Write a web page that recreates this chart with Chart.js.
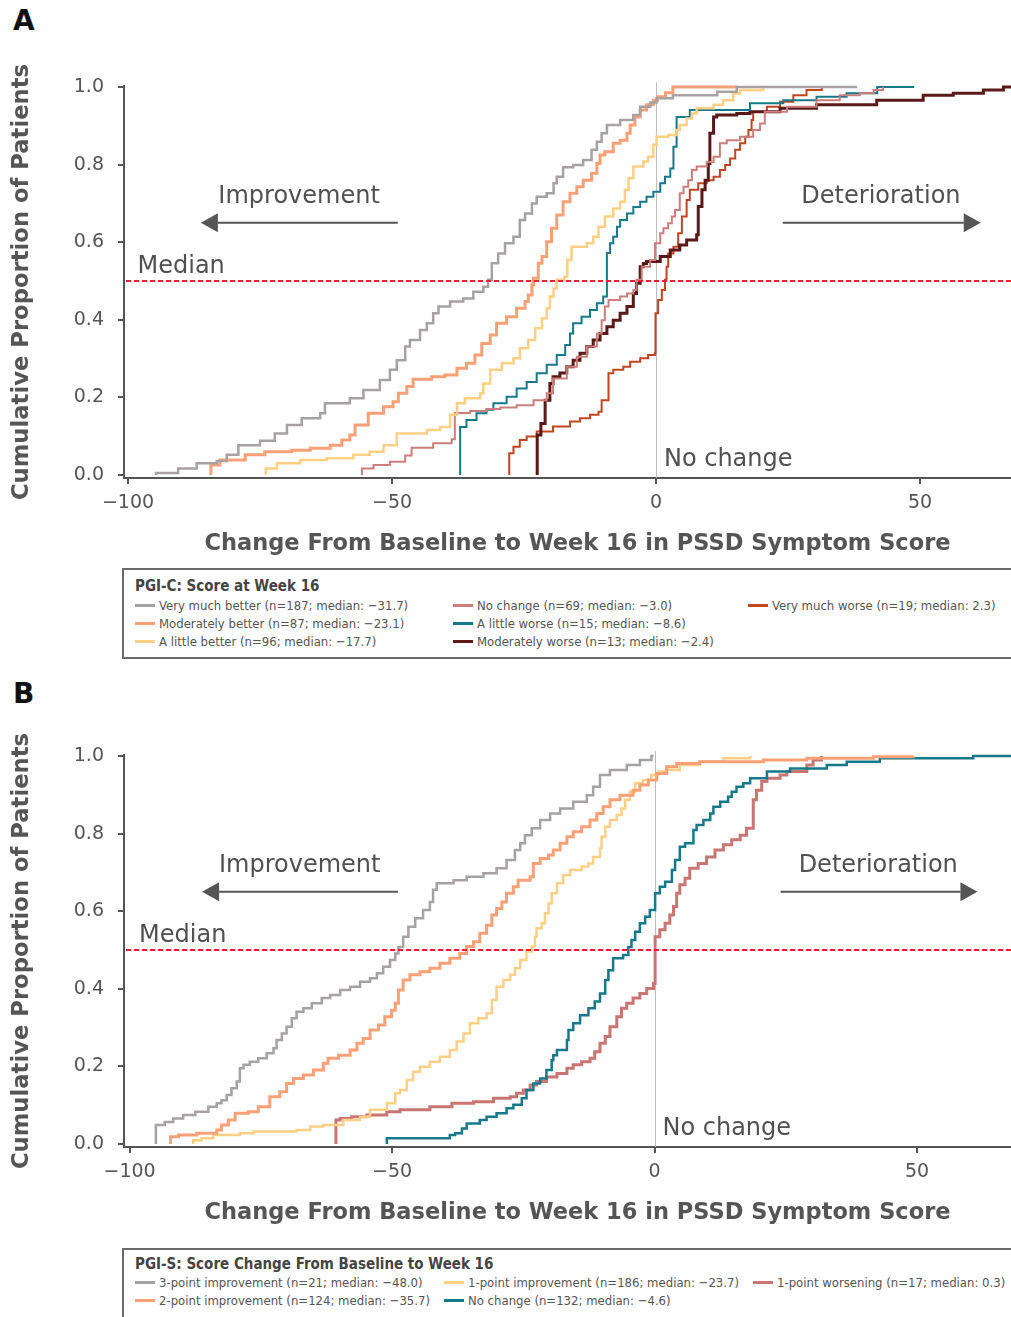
<!DOCTYPE html>
<html><head><meta charset="utf-8">
<script src="https://cdn.jsdelivr.net/npm/chart.js@4.4.1/dist/chart.umd.min.js"></script>
<style>
html,body{margin:0;padding:0;background:#fff;width:1011px;height:1317px;overflow:hidden;}
body{position:relative;font-family:"DejaVu Sans",sans-serif;}
.panel-label{position:absolute;left:13px;font:bold 28px/28px "DejaVu Sans";color:#111;}
canvas{position:absolute;left:0;}
.legend{position:absolute;left:122px;width:960px;border:2px solid #6a6a6a;box-sizing:border-box;background:#fff;}
.lg-title{position:absolute;left:11px;height:18px;line-height:18px;font-weight:bold;font-size:15px;font-family:"DejaVu Sans Condensed","DejaVu Sans";font-stretch:condensed;color:#444;white-space:nowrap;}
.lg-item{position:absolute;height:18px;line-height:18px;font-size:13px;font-family:"DejaVu Sans Condensed","DejaVu Sans";font-stretch:condensed;color:#555;white-space:nowrap;}
.lg-sw{display:inline-block;width:20px;height:3px;vertical-align:middle;margin-right:4px;position:relative;top:-1px;}
</style></head><body>
<div class="panel-label" style="top:7px">A</div>
<canvas id="chartA" width="1031" height="560" style="top:0"></canvas>
<div class="legend" id="legendA" style="top:568px;height:91px"></div>
<div class="panel-label" style="top:680px">B</div>
<canvas id="chartB" width="1031" height="560" style="top:669px"></canvas>
<div class="legend" id="legendB" style="top:1248px;height:100px"></div>
<script>
// ---------------- DATA ----------------
const xTicks = [-100, -50, 0, 50];
const yTicks = [0, 0.2, 0.4, 0.6, 0.8, 1.0];
const xAxisTitle = 'Change From Baseline to Week 16 in PSSD Symptom Score';
const yAxisTitle = 'Cumulative Proportion of Patients';

// Panel A: PGI-C
const aLegendTitle = 'PGI-C: Score at Week 16';
const aCategories = ['Very much better','Moderately better','A little better','No change','A little worse','Moderately worse','Very much worse'];
const aN = [187, 87, 96, 69, 15, 13, 19];
const aMedian = [-31.7, -23.1, -17.7, -3.0, -8.6, -2.4, 2.3];

const aVeryMuchBetter = [[-94.7,0],[-94.7,0.005],[-90.5,0.017],[-87.0,0.030],[-83.2,0.036],[-81.3,0.052],[-79.1,0.077],[-75.0,0.088],[-72.2,0.107],[-69.9,0.129],[-67.1,0.146],[-63.6,0.159],[-62.7,0.185],[-58.0,0.198],[-55.4,0.219],[-52.3,0.245],[-50.4,0.271],[-49.1,0.296],[-47.5,0.331],[-46.6,0.348],[-44.7,0.374],[-43.4,0.391],[-42.2,0.417],[-41.2,0.434],[-39.0,0.447],[-36.5,0.455],[-34.6,0.472],[-32.7,0.485],[-31.8,0.503],[-31.1,0.546],[-29.9,0.571],[-28.6,0.597],[-27.0,0.614],[-25.8,0.657],[-24.8,0.674],[-23.5,0.700],[-22.6,0.717],[-20.7,0.726],[-19.4,0.752],[-18.8,0.769],[-17.6,0.793],[-15.7,0.799],[-13.8,0.812],[-12.2,0.838],[-11.2,0.859],[-10.3,0.881],[-9.3,0.902],[-6.8,0.915],[-4.3,0.928],[-3.0,0.949],[-1.1,0.960],[0.1,0.971],[3.2,0.979],[11.6,0.988],[15.3,1.0],[38.1,1.0]];
const aModeratelyBetter = [[-84.3,0],[-84.3,0.026],[-82.6,0.039],[-77.8,0.052],[-74.1,0.060],[-69.0,0.064],[-65.5,0.069],[-61.7,0.077],[-59.5,0.090],[-58.0,0.103],[-57.0,0.129],[-54.5,0.159],[-51.6,0.176],[-49.8,0.189],[-48.8,0.211],[-47.2,0.228],[-46.0,0.247],[-42.5,0.253],[-40.0,0.258],[-37.7,0.275],[-35.9,0.288],[-34.3,0.309],[-33.0,0.339],[-31.4,0.361],[-30.2,0.391],[-28.3,0.408],[-26.4,0.430],[-24.8,0.447],[-24.2,0.464],[-23.5,0.490],[-23.2,0.507],[-22.3,0.546],[-21.6,0.563],[-20.7,0.601],[-19.8,0.636],[-18.8,0.670],[-17.6,0.704],[-16.3,0.726],[-15.0,0.743],[-13.8,0.760],[-12.2,0.778],[-11.2,0.803],[-10.6,0.825],[-9.7,0.833],[-8.1,0.855],[-6.8,0.863],[-5.5,0.881],[-4.9,0.902],[-4.0,0.923],[-3.0,0.941],[-1.8,0.954],[-0.5,0.966],[0.3,0.975],[1.8,0.985],[3.2,1.0],[15.3,1.0]];
const aLittleBetter = [[-73.9,0],[-73.9,0.017],[-71.8,0.030],[-67.4,0.039],[-62.4,0.043],[-57.3,0.052],[-54.2,0.060],[-51.6,0.077],[-49.1,0.107],[-43.4,0.116],[-40.9,0.124],[-39.0,0.155],[-37.7,0.185],[-36.2,0.198],[-33.3,0.211],[-32.7,0.236],[-31.4,0.271],[-29.2,0.288],[-27.0,0.301],[-25.8,0.327],[-24.2,0.348],[-22.9,0.378],[-21.6,0.404],[-20.7,0.430],[-20.1,0.460],[-19.4,0.481],[-18.8,0.503],[-17.4,0.511],[-16.8,0.554],[-16.0,0.588],[-13.1,0.597],[-11.9,0.614],[-10.9,0.640],[-9.7,0.666],[-8.1,0.687],[-6.8,0.704],[-5.9,0.735],[-5.2,0.765],[-4.3,0.795],[-2.4,0.808],[-1.5,0.820],[-0.5,0.851],[0.1,0.872],[2.3,0.876],[3.9,0.889],[4.5,0.902],[5.8,0.919],[6.8,0.932],[7.7,0.945],[10.9,0.954],[12.7,0.966],[14.6,0.983],[15.9,0.992],[20.3,1.0],[20.6,1.0]];
const aNoChange = [[-55.7,0],[-55.7,0.017],[-53.5,0.026],[-50.4,0.034],[-47.5,0.050],[-46.3,0.070],[-42.2,0.082],[-38.7,0.092],[-38.1,0.160],[-35.2,0.165],[-32.1,0.170],[-29.5,0.174],[-26.4,0.180],[-23.2,0.193],[-20.7,0.211],[-19.5,0.249],[-16.9,0.279],[-15.0,0.305],[-13.1,0.331],[-11.2,0.365],[-10.3,0.399],[-9.7,0.434],[-9.0,0.451],[-6.8,0.460],[-5.5,0.468],[-4.3,0.477],[-3.7,0.503],[-2.7,0.537],[-1.1,0.554],[-0.2,0.597],[0.8,0.623],[1.4,0.636],[2.3,0.649],[3.0,0.666],[3.6,0.683],[4.5,0.726],[5.2,0.743],[6.1,0.760],[6.8,0.786],[7.7,0.795],[9.6,0.807],[10.9,0.820],[12.1,0.855],[13.4,0.863],[15.9,0.872],[18.4,0.889],[19.7,0.906],[20.6,0.936],[24.8,0.949],[30.4,0.966],[34.8,0.979],[38.6,0.984],[41.2,0.992],[43.0,1.0]];
const aLittleWorse = [[-37.1,0],[-37.1,0.124],[-35.9,0.142],[-34.0,0.159],[-32.1,0.168],[-30.8,0.185],[-28.3,0.202],[-26.4,0.223],[-24.5,0.240],[-22.6,0.262],[-20.7,0.284],[-18.8,0.309],[-17.2,0.335],[-16.3,0.365],[-15.7,0.391],[-14.1,0.408],[-12.5,0.425],[-11.2,0.443],[-10.0,0.460],[-9.3,0.572],[-8.7,0.597],[-8.1,0.614],[-7.4,0.640],[-6.8,0.657],[-5.5,0.674],[-4.3,0.691],[-3.0,0.704],[-1.8,0.717],[-0.5,0.730],[0.8,0.752],[1.7,0.769],[2.7,0.790],[3.3,0.846],[3.9,0.923],[6.4,0.941],[17.8,0.958],[24.1,0.966],[30.4,0.975],[36.1,0.984],[41.9,1.0],[48.9,1.0]];
const aModeratelyWorse = [[-22.5,0],[-22.5,0.103],[-21.8,0.133],[-21.0,0.193],[-20.1,0.236],[-19.5,0.253],[-18.2,0.263],[-16.9,0.279],[-15.7,0.296],[-14.4,0.314],[-13.1,0.331],[-11.9,0.348],[-10.6,0.365],[-9.3,0.382],[-8.1,0.399],[-6.8,0.417],[-5.5,0.434],[-4.3,0.468],[-3.7,0.494],[-3.0,0.537],[-2.4,0.545],[-1.8,0.550],[0.8,0.563],[2.7,0.580],[4.5,0.593],[5.8,0.606],[7.7,0.619],[8.0,0.692],[8.7,0.735],[9.3,0.760],[9.9,0.803],[10.2,0.881],[10.9,0.923],[11.5,0.928],[15.3,0.932],[17.8,0.936],[23.5,0.945],[30.4,0.954],[41.8,0.966],[50.6,0.979],[56.3,0.984],[62.0,0.992],[65.8,1.0],[71.0,1.0]];
const aVeryMuchWorse = [[-27.8,0],[-27.8,0.056],[-27.0,0.073],[-25.8,0.090],[-24.5,0.099],[-22.6,0.112],[-19.5,0.125],[-16.3,0.138],[-14.4,0.146],[-12.5,0.155],[-10.9,0.163],[-10.3,0.193],[-9.0,0.262],[-8.1,0.271],[-6.2,0.279],[-4.9,0.292],[-3.0,0.301],[-1.5,0.309],[-0.2,0.314],[-0.1,0.417],[0.4,0.451],[1.1,0.477],[1.7,0.503],[2.0,0.537],[2.3,0.571],[3.3,0.588],[4.2,0.623],[4.9,0.666],[5.8,0.709],[6.4,0.735],[8.0,0.752],[9.6,0.760],[10.9,0.769],[12.1,0.786],[13.1,0.799],[14.0,0.816],[15.0,0.838],[15.9,0.855],[16.9,0.872],[17.5,0.889],[18.1,0.915],[18.4,0.936],[21.0,0.949],[23.5,0.962],[26.0,0.979],[28.5,0.992],[31.4,1.0]];

// Panel B: PGI-S
const bLegendTitle = 'PGI-S: Score Change From Baseline to Week 16';
const bCategories = ['3-point improvement','2-point improvement','1-point improvement','No change','1-point worsening'];
const bN = [21, 124, 186, 132, 17];
const bMedian = [-48.0, -35.7, -23.7, -4.6, 0.3];

const b3ptImprovement = [[-95.0,0],[-95.0,0.049],[-93.3,0.057],[-91.7,0.066],[-89.8,0.075],[-87.5,0.083],[-85.0,0.096],[-83.4,0.105],[-82.5,0.113],[-81.5,0.126],[-80.6,0.144],[-79.6,0.161],[-79.0,0.195],[-78.3,0.204],[-77.1,0.212],[-75.5,0.221],[-73.9,0.234],[-72.6,0.247],[-72.0,0.268],[-71.0,0.285],[-70.1,0.302],[-69.1,0.324],[-68.2,0.341],[-66.9,0.350],[-65.3,0.363],[-63.4,0.376],[-61.8,0.384],[-59.9,0.397],[-58.0,0.405],[-56.1,0.418],[-54.2,0.427],[-52.9,0.440],[-51.7,0.457],[-50.4,0.474],[-49.4,0.491],[-48.8,0.508],[-47.9,0.534],[-46.9,0.560],[-45.6,0.582],[-44.1,0.603],[-42.8,0.624],[-42.2,0.655],[-41.5,0.672],[-38.3,0.680],[-35.8,0.689],[-32.6,0.698],[-30.1,0.711],[-28.2,0.732],[-26.6,0.758],[-25.6,0.775],[-24.7,0.796],[-23.4,0.814],[-21.8,0.835],[-19.9,0.852],[-18.0,0.865],[-15.5,0.882],[-12.9,0.899],[-11.7,0.921],[-10.4,0.951],[-8.5,0.964],[-5.3,0.977],[-2.8,0.990],[-0.6,1.0],[-0.2,1.0]];
const b2ptImprovement = [[-92.2,0],[-92.2,0.019],[-90.7,0.023],[-87.2,0.028],[-83.4,0.036],[-82.5,0.049],[-81.2,0.062],[-79.9,0.079],[-77.4,0.083],[-75.5,0.096],[-73.3,0.122],[-71.4,0.135],[-70.1,0.156],[-68.8,0.169],[-66.9,0.178],[-65.0,0.191],[-63.1,0.208],[-62.2,0.221],[-60.2,0.229],[-58.0,0.242],[-56.7,0.260],[-55.5,0.272],[-54.2,0.294],[-52.6,0.307],[-51.4,0.328],[-50.1,0.345],[-49.4,0.363],[-48.8,0.397],[-47.9,0.423],[-46.6,0.436],[-44.7,0.444],[-42.8,0.453],[-40.9,0.466],[-39.0,0.479],[-37.1,0.491],[-35.8,0.509],[-34.5,0.521],[-33.3,0.543],[-32.0,0.564],[-31.0,0.590],[-30.1,0.607],[-29.1,0.624],[-28.2,0.646],[-26.9,0.663],[-26.0,0.680],[-23.7,0.689],[-23.1,0.723],[-21.8,0.736],[-20.2,0.745],[-19.3,0.758],[-18.0,0.775],[-16.7,0.792],[-15.5,0.805],[-13.9,0.818],[-12.3,0.835],[-11.0,0.852],[-9.8,0.869],[-8.5,0.887],[-6.6,0.899],[-4.1,0.912],[-2.8,0.925],[-1.2,0.938],[0.4,0.955],[2.3,0.972],[4.2,0.981],[8.6,0.985],[20.7,0.990],[29.0,0.994],[41.7,0.998],[49.3,1.0]];
const b1ptImprovement = [[-87.9,0],[-87.9,0.010],[-86.3,0.015],[-84.1,0.023],[-79.0,0.028],[-76.4,0.032],[-68.2,0.036],[-65.6,0.045],[-63.1,0.049],[-59.3,0.062],[-56.1,0.070],[-54.2,0.088],[-51.0,0.105],[-49.4,0.131],[-48.5,0.139],[-47.2,0.165],[-46.0,0.186],[-44.7,0.199],[-42.8,0.212],[-40.9,0.225],[-39.0,0.242],[-37.7,0.264],[-36.4,0.285],[-35.2,0.311],[-33.6,0.324],[-32.0,0.337],[-31.0,0.371],[-30.1,0.405],[-28.8,0.423],[-27.5,0.436],[-26.6,0.453],[-25.6,0.474],[-24.4,0.496],[-23.4,0.509],[-22.8,0.534],[-22.5,0.556],[-21.5,0.569],[-20.9,0.595],[-20.2,0.620],[-19.6,0.646],[-18.6,0.672],[-17.4,0.693],[-16.1,0.706],[-13.9,0.715],[-12.6,0.723],[-11.7,0.740],[-10.4,0.762],[-10.1,0.792],[-9.4,0.818],[-8.5,0.835],[-7.2,0.848],[-6.3,0.865],[-5.6,0.887],[-4.7,0.908],[-3.7,0.930],[-2.2,0.938],[-0.6,0.951],[0.7,0.960],[2.3,0.964],[4.8,0.977],[8.6,0.985],[13.1,0.994],[18.2,1.0]];
const bNoChange = [[-51.0,0],[-51.0,0.015],[-39.0,0.023],[-38.0,0.028],[-36.7,0.040],[-35.8,0.053],[-33.3,0.062],[-32.0,0.070],[-30.1,0.079],[-28.2,0.092],[-26.9,0.101],[-25.3,0.118],[-24.4,0.139],[-23.1,0.156],[-21.8,0.169],[-20.6,0.191],[-19.6,0.216],[-19.3,0.229],[-18.6,0.242],[-16.7,0.268],[-16.4,0.294],[-15.5,0.311],[-14.2,0.332],[-12.6,0.350],[-11.4,0.367],[-10.4,0.388],[-9.4,0.423],[-8.8,0.448],[-7.9,0.479],[-6.0,0.487],[-5.0,0.508],[-4.4,0.526],[-3.7,0.547],[-2.8,0.569],[-1.8,0.586],[-0.9,0.603],[0.1,0.646],[1.0,0.663],[2.0,0.676],[3.3,0.706],[3.9,0.732],[4.8,0.766],[5.8,0.775],[7.4,0.809],[8.0,0.822],[9.3,0.835],[10.6,0.852],[11.2,0.869],[12.5,0.882],[14.0,0.895],[14.7,0.908],[15.6,0.921],[16.9,0.930],[18.2,0.943],[21.4,0.960],[25.8,0.968],[32.8,0.977],[36.6,0.985],[42.9,0.994],[60.7,1.0],[71.7,1.0]];
const b1ptWorsening = [[-60.7,0],[-60.7,0.062],[-59.9,0.066],[-57.7,0.070],[-54.8,0.075],[-51.0,0.083],[-48.5,0.088],[-42.8,0.096],[-38.6,0.105],[-34.5,0.109],[-30.7,0.118],[-27.5,0.122],[-26.3,0.131],[-25.0,0.139],[-23.7,0.152],[-22.5,0.161],[-20.6,0.173],[-18.6,0.182],[-16.7,0.195],[-15.5,0.204],[-13.9,0.212],[-12.3,0.221],[-11.4,0.238],[-10.4,0.260],[-9.4,0.277],[-8.5,0.302],[-7.2,0.328],[-6.3,0.350],[-5.3,0.363],[-4.1,0.376],[-2.8,0.388],[-1.5,0.401],[-0.2,0.414],[0.1,0.534],[1.0,0.552],[2.0,0.569],[2.9,0.590],[3.6,0.612],[4.2,0.646],[4.8,0.668],[5.8,0.685],[6.7,0.711],[8.3,0.723],[9.9,0.740],[11.5,0.758],[13.1,0.771],[14.7,0.784],[16.3,0.796],[17.5,0.814],[18.8,0.887],[19.4,0.912],[20.4,0.934],[21.4,0.943],[23.9,0.951],[25.2,0.960],[29.0,0.977],[30.2,0.990],[31.8,1.0]];

// ---------------- STYLE ----------------
const C = { gray:'#A7A1A1', orange:'#F9A077', yellow:'#FECF84', rose:'#CC7E7C', teal:'#16798A', brown:'#5A1818', rust:'#C2451F', rose2:'#C97572' };
const axisColor = '#555555';
const textColor = '#555555';
const FONT = '"DejaVu Sans", sans-serif';

const panelA = {
  canvas: 'chartA', legend: 'legendA', title: aLegendTitle, xMin: -100.76, xMax: 71.02,
  series: [aVeryMuchBetter, aModeratelyBetter, aLittleBetter, aNoChange, aLittleWorse, aModeratelyWorse, aVeryMuchWorse],
  cats: aCategories, ns: aN, meds: aMedian,
  colors: [C.gray, C.orange, C.yellow, C.rose, C.teal, C.brown, C.rust],
  widths: [2.5, 3, 2.5, 2, 2, 3, 2],
  cols: [0,0,0,1,1,1,2], rows: [0,1,2,0,1,2,0], colX: [11, 329, 624], titleTop: 7, rowTop: 27
};
const panelB = {
  canvas: 'chartB', legend: 'legendB', title: bLegendTitle, xMin: -101.07, xMax: 71.70,
  series: [b3ptImprovement, b2ptImprovement, b1ptImprovement, bNoChange, b1ptWorsening],
  cats: bCategories, ns: bN, meds: bMedian,
  colors: [C.gray, C.orange, C.yellow, C.teal, C.rose2],
  widths: [2.5, 3, 2.5, 2.5, 3],
  cols: [0,0,1,1,2], rows: [0,1,0,1,0], colX: [11, 320, 629], titleTop: 5, rowTop: 24
};

const fmtNum = v => (v < 0 ? '\u2212' : '') + Math.abs(v).toFixed(1);
const fmtTick = v => (v < 0 ? '\u2212' : '') + Math.abs(v);

// annotation layout (in data units)
const annot = {
  leftArrow: { from: -48.9, to: -86.2, y: 0.650 },
  rightArrow: { from: 24.0, to: 61.5, y: 0.650 },
  texts: [
    { t: 'Improvement', x: -67.6, y: 0.700, align: 'center' },
    { t: 'Deterioration', x: 42.6, y: 0.700, align: 'center' },
    { t: 'Median', x: -98.2, y: 0.521, align: 'left' },
    { t: 'No change', x: 1.5, y: 0.023, align: 'left' }
  ]
};

const refPlugin = {
  id: 'refMarks',
  beforeDatasetsDraw(chart) {
    const { ctx, chartArea: a, scales: { x } } = chart;
    ctx.save();
    const x0 = Math.round(x.getPixelForValue(0)) + 0.5;
    ctx.strokeStyle = '#bdbdbd'; ctx.lineWidth = 1;
    ctx.beginPath(); ctx.moveTo(x0, a.top - 4); ctx.lineTo(x0, a.bottom); ctx.stroke();
    ctx.restore();
  },
  afterDatasetsDraw(chart) {
    const { ctx, chartArea: a, scales: { x, y } } = chart;
    ctx.save();
    const ym = Math.round(y.getPixelForValue(0.5));
    ctx.strokeStyle = '#E8202A'; ctx.lineWidth = 2; ctx.setLineDash([5, 3]);
    ctx.beginPath(); ctx.moveTo(a.left + 2, ym); ctx.lineTo(a.right, ym); ctx.stroke();
    ctx.setLineDash([]);
    const arrow = (spec) => {
      const x1 = x.getPixelForValue(spec.from), x2 = x.getPixelForValue(spec.to), yy = y.getPixelForValue(spec.y);
      const dir = Math.sign(x2 - x1), head = 17, half = 9.5;
      ctx.strokeStyle = '#555'; ctx.fillStyle = '#555'; ctx.lineWidth = 2;
      ctx.beginPath(); ctx.moveTo(x1, yy); ctx.lineTo(x2 - dir * head, yy); ctx.stroke();
      ctx.beginPath(); ctx.moveTo(x2, yy); ctx.lineTo(x2 - dir * head, yy - half); ctx.lineTo(x2 - dir * head, yy + half); ctx.closePath(); ctx.fill();
    };
    arrow(annot.leftArrow); arrow(annot.rightArrow);
    ctx.fillStyle = '#505050'; ctx.font = '24px ' + FONT; ctx.textBaseline = 'alphabetic';
    annot.texts.forEach(o => { ctx.textAlign = o.align; ctx.fillText(o.t, x.getPixelForValue(o.x), y.getPixelForValue(o.y)); });
    ctx.restore();
  }
};

function buildChart(p) {
  const datasets = p.series.map((pts, i) => ({
    label: p.cats[i],
    data: pts.map(q => ({ x: q[0], y: q[1] })),
    borderColor: p.colors[i], backgroundColor: p.colors[i],
    borderWidth: p.widths[i], stepped: true, pointRadius: 0, fill: false, clip: 3
  }));
  new Chart(document.getElementById(p.canvas), {
    type: 'line',
    data: { datasets },
    plugins: [refPlugin],
    options: {
      responsive: false, animation: false, devicePixelRatio: 1,
      layout: { padding: { left: 0, right: 0, top: 86, bottom: 0 } },
      plugins: { legend: { display: false }, tooltip: { enabled: false } },
      scales: {
        x: {
          type: 'linear', min: p.xMin, max: p.xMax,
          afterBuildTicks: s => { s.ticks = xTicks.map(v => ({ value: v })); },
          afterFit: s => { s.height = 82; },
          ticks: { callback: v => fmtTick(v), color: textColor, font: { family: FONT, size: 19 }, padding: 8, maxRotation: 0, autoSkip: false },
          grid: { display: true, drawOnChartArea: false, drawTicks: true, tickLength: 6, color: axisColor, lineWidth: 2 },
          border: { display: true, color: axisColor, width: 2 },
          title: { display: true, text: xAxisTitle, color: textColor, font: { family: FONT, size: 22.5, weight: 'bold' }, padding: { top: 0, bottom: 2.5 } }
        },
        y: {
          type: 'linear', min: -0.0077, max: 1.0026,
          afterBuildTicks: s => { s.ticks = yTicks.map(v => ({ value: v })); },
          afterFit: s => { s.width = 124; },
          ticks: { callback: v => v.toFixed(1), color: textColor, font: { family: FONT, size: 19 }, padding: 14 },
          grid: { display: true, drawOnChartArea: false, drawTicks: true, tickLength: 6, color: axisColor, lineWidth: 2 },
          border: { display: true, color: axisColor, width: 2 },
          title: { display: true, text: yAxisTitle, color: textColor, font: { family: FONT, size: 22.7, weight: 'bold' }, padding: { top: 8.4, bottom: 0 } }
        }
      }
    }
  });
  // HTML legend
  const box = document.getElementById(p.legend);
  const t = document.createElement('div');
  t.className = 'lg-title'; t.style.top = p.titleTop + 'px'; t.textContent = p.title;
  box.appendChild(t);
  p.cats.forEach((c, i) => {
    const d = document.createElement('div');
    d.className = 'lg-item';
    d.style.left = p.colX[p.cols[i]] + 'px';
    d.style.top = (p.rowTop + p.rows[i] * 18) + 'px';
    const sw = document.createElement('span');
    sw.className = 'lg-sw'; sw.style.background = p.colors[i];
    d.appendChild(sw);
    d.appendChild(document.createTextNode(c + ' (n=' + p.ns[i] + '; median: ' + fmtNum(p.meds[i]) + ')'));
    box.appendChild(d);
  });
}
buildChart(panelA);
buildChart(panelB);
</script>
</body></html>
